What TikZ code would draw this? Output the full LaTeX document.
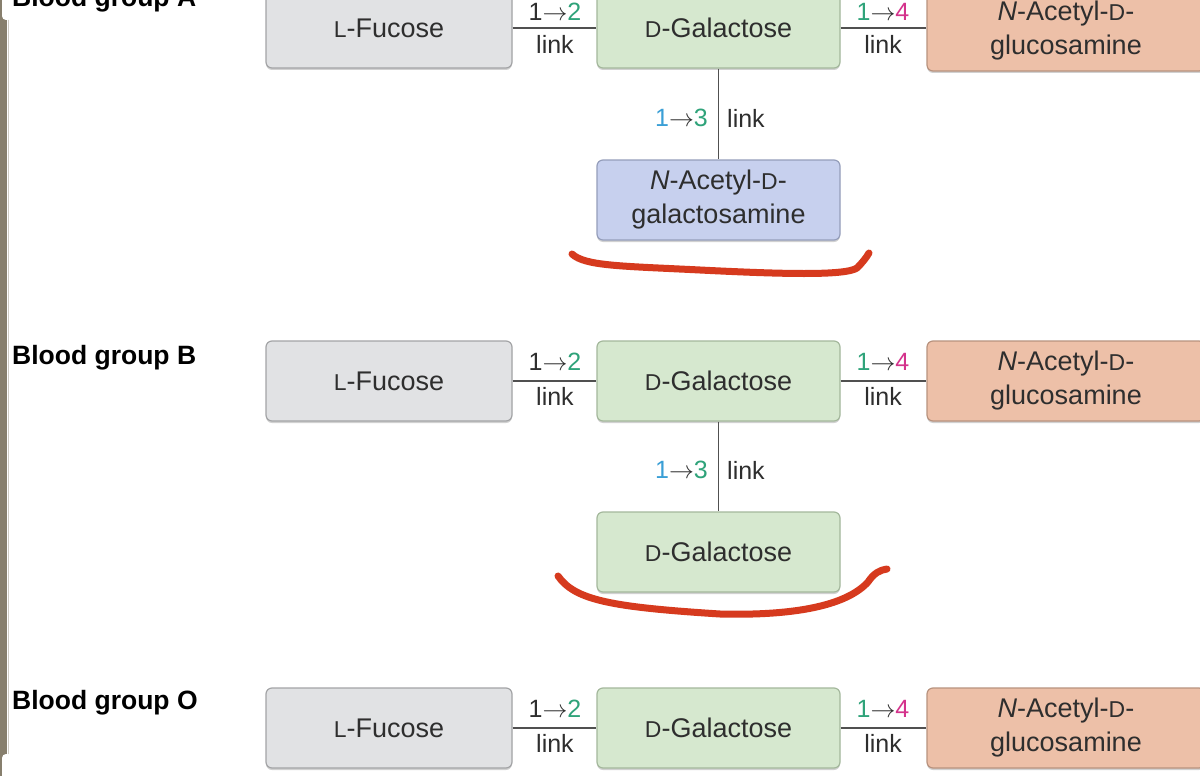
\documentclass[tikz,border=0pt]{standalone}
\usepackage{fontspec}
\usepackage{graphicx}
\setmainfont{Liberation Sans}
\usetikzlibrary{shadows}
\definecolor{txt}{HTML}{2E2E2E}
\definecolor{grayfill}{HTML}{E1E2E4}
\definecolor{grayedge}{HTML}{A3A4A6}
\definecolor{greenfill}{HTML}{D6E8CF}
\definecolor{greenedge}{HTML}{A4B89C}
\definecolor{salmonfill}{HTML}{EDC0A8}
\definecolor{salmonedge}{HTML}{B8927E}
\definecolor{bluefill}{HTML}{C7D0EE}
\definecolor{blueedge}{HTML}{959EBB}
\definecolor{numgreen}{HTML}{2FA37A}
\definecolor{numpink}{HTML}{D4338C}
\definecolor{numblue}{HTML}{3A9FD6}
\definecolor{marker}{HTML}{D63A1E}
\definecolor{stripe}{HTML}{877F6D}
\definecolor{linkline}{HTML}{505050}
\newcommand\smallcap[1]{\scalebox{0.85}{#1}}
\begin{document}
\begin{tikzpicture}[x=1pt,y=-1pt,
  sugar/.style={rounded corners=6pt, line width=1.2pt, minimum height=80pt,
    align=center, text=txt, font=\fontsize{27}{34}\selectfont,
    drop shadow={shadow xshift=0pt, shadow yshift=-2pt, fill=black, opacity=0.18}},
  fuc/.style={sugar, fill=grayfill, draw=grayedge, minimum width=246pt},
  gal/.style={sugar, fill=greenfill, draw=greenedge, minimum width=243pt},
  glc/.style={sugar, fill=salmonfill, draw=salmonedge, minimum width=278pt},
  nag/.style={sugar, fill=bluefill, draw=blueedge, minimum width=243pt},
  bond/.style={draw=linkline, line width=1.6pt},
  lab/.style={text=txt, font=\fontsize{25}{28}\selectfont, inner sep=0pt},
  grp/.style={text=black, font=\fontsize{26.5}{30}\selectfont\bfseries, anchor=base west, inner sep=0pt},
  redstroke/.style={draw=marker, line width=7pt, line cap=round, line join=round}]
\useasboundingbox (0,0) rectangle (1200,776);
\begin{scope}
\clip (0,0) rectangle (1200,776);
\fill[white] (0,0) rectangle (1200,776);
% left stripe
\fill[stripe] (0,0) rectangle (7,776);
\draw[color=stripe!40, line width=1.5pt] (8.5,0) -- (8.5,776);
\fill[white, rounded corners=4pt] (2,-6) rectangle (12,20);
\fill[white, rounded corners=4pt] (2,754) rectangle (12,790);

% ---------- Blood group A ----------
\node[grp] (gA) at (12,7) {Blood group A};
\node[fuc] (aF) at (389,28) {\smallcap{L}-Fucose};
\node[gal] (aG) at (718.5,28) {\smallcap{D}-Galactose};
\node[glc] (aN) at (1066,31) {\textit{N}-Acetyl-\smallcap{D}-\\glucosamine};
\node[nag] (aB) at (718.5,200) {\textit{N}-Acetyl-\smallcap{D}-\\galactosamine};
\draw[bond] (aF.east) -- (aG.west);
\draw[bond] (aG.east) -- (aN.west |- aG.east);
\draw[bond] (aG.south) -- (aB.north);
\node[lab] (aL1) at (555,12) {1$\to$\textcolor{numgreen}{2}};
\node[lab] (aL1b) at (555,44) {link};
\node[lab] (aL2) at (883,12) {\textcolor{numgreen}{1}$\to$\textcolor{numpink}{4}};
\node[lab] (aL2b) at (883,44) {link};
\node[lab, anchor=east] (aL3) at (708,118) {\textcolor{numblue}{1}$\to$\textcolor{numgreen}{3}};
\node[lab, anchor=west] (aL3b) at (727,118) {link};
\draw[redstroke] (572,254) .. controls (585,266) and (620,266) .. (700,270)
  .. controls (780,274) and (845,276) .. (857,268)
  .. controls (862,263) and (866,258) .. (869,253);

% ---------- Blood group B ----------
\node[grp] (gB) at (12,364) {Blood group B};
\node[fuc] (bF) at (389,381) {\smallcap{L}-Fucose};
\node[gal] (bG) at (718.5,381) {\smallcap{D}-Galactose};
\node[glc] (bN) at (1066,381) {\textit{N}-Acetyl-\smallcap{D}-\\glucosamine};
\node[gal] (bB) at (718.5,552) {\smallcap{D}-Galactose};
\draw[bond] (bF.east) -- (bG.west);
\draw[bond] (bG.east) -- (bN.west);
\draw[bond] (bG.south) -- (bB.north);
\node[lab] (bL1) at (555,362) {1$\to$\textcolor{numgreen}{2}};
\node[lab] (bL1b) at (555,396) {link};
\node[lab] (bL2) at (883,362) {\textcolor{numgreen}{1}$\to$\textcolor{numpink}{4}};
\node[lab] (bL2b) at (883,396) {link};
\node[lab, anchor=east] (bL3) at (708,470) {\textcolor{numblue}{1}$\to$\textcolor{numgreen}{3}};
\node[lab, anchor=west] (bL3b) at (727,470) {link};
\draw[redstroke] (558,576) .. controls (575,600) and (610,607) .. (720,614)
  .. controls (800,616) and (848,604) .. (868,582)
  .. controls (874,573) and (880,570) .. (887,569);

% ---------- Blood group O ----------
\node[grp] (gO) at (12,709) {Blood group O};
\node[fuc] (oF) at (389,728) {\smallcap{L}-Fucose};
\node[gal] (oG) at (718.5,728) {\smallcap{D}-Galactose};
\node[glc] (oN) at (1066,728) {\textit{N}-Acetyl-\smallcap{D}-\\glucosamine};
\draw[bond] (oF.east) -- (oG.west);
\draw[bond] (oG.east) -- (oN.west);
\node[lab] (oL1) at (555,709) {1$\to$\textcolor{numgreen}{2}};
\node[lab] (oL1b) at (555,743) {link};
\node[lab] (oL2) at (883,709) {\textcolor{numgreen}{1}$\to$\textcolor{numpink}{4}};
\node[lab] (oL2b) at (883,743) {link};
\end{scope}
\end{tikzpicture}
\end{document}
